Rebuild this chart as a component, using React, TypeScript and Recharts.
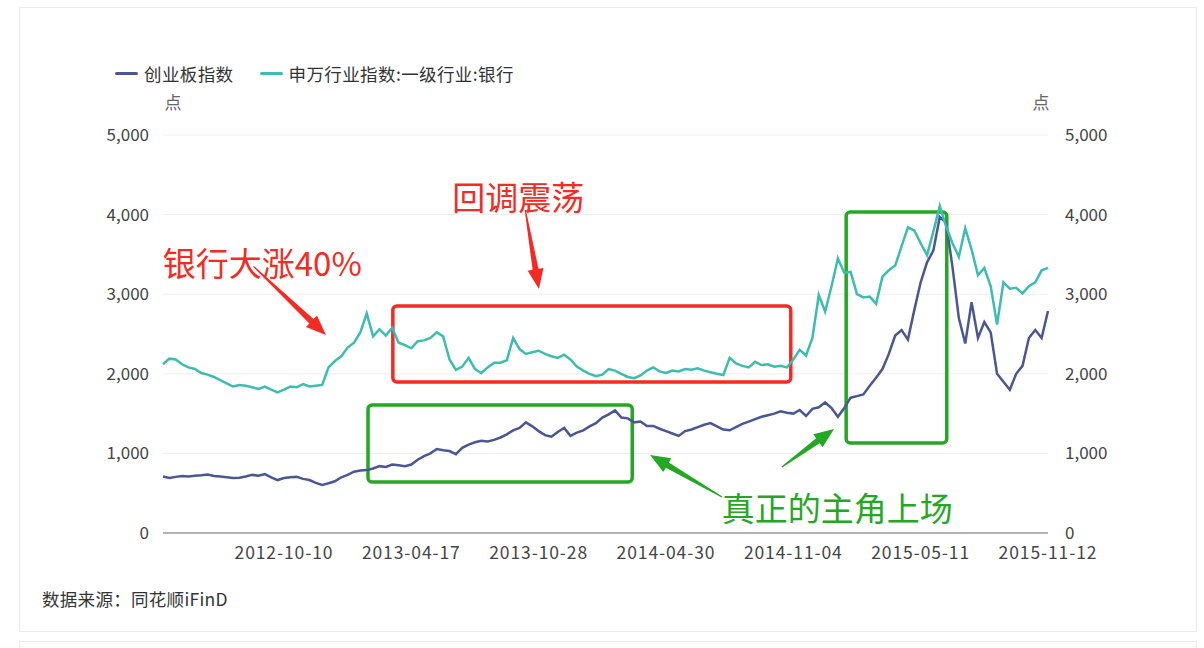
import { LineChart, Line, XAxis, YAxis, CartesianGrid, ReferenceArea, ReferenceLine, ReferenceDot } from 'recharts';

// categories: trading days sampled roughly every 9-10 calendar days
const dates = [
    '2012-04-13', '2012-04-23', '2012-05-02', '2012-05-11', '2012-05-21', '2012-05-30', '2012-06-08', '2012-06-18', '2012-06-27', '2012-07-06',
    '2012-07-16', '2012-07-25', '2012-08-03', '2012-08-13', '2012-08-22', '2012-08-31', '2012-09-10', '2012-09-19', '2012-09-28', '2012-10-10',
    '2012-10-19', '2012-10-29', '2012-11-07', '2012-11-16', '2012-11-26', '2012-12-05', '2012-12-14', '2012-12-24', '2013-01-04', '2013-01-14',
    '2013-01-23', '2013-02-01', '2013-02-18', '2013-02-27', '2013-03-08', '2013-03-18', '2013-03-27', '2013-04-03', '2013-04-10', '2013-04-17',
    '2013-04-26', '2013-05-08', '2013-05-17', '2013-05-27', '2013-06-05', '2013-06-17', '2013-06-26', '2013-07-05', '2013-07-15', '2013-07-24',
    '2013-08-02', '2013-08-12', '2013-08-21', '2013-08-30', '2013-09-09', '2013-09-18', '2013-09-30', '2013-10-14', '2013-10-21', '2013-10-28',
    '2013-11-06', '2013-11-15', '2013-11-25', '2013-12-04', '2013-12-13', '2013-12-23', '2014-01-02', '2014-01-13', '2014-01-22', '2014-02-07',
    '2014-02-17', '2014-02-26', '2014-03-07', '2014-03-17', '2014-03-26', '2014-04-04', '2014-04-11', '2014-04-18', '2014-04-24', '2014-04-30',
    '2014-05-12', '2014-05-21', '2014-05-30', '2014-06-10', '2014-06-19', '2014-06-30', '2014-07-09', '2014-07-18', '2014-07-29', '2014-08-07',
    '2014-08-18', '2014-08-27', '2014-09-05', '2014-09-16', '2014-09-25', '2014-10-10', '2014-10-17', '2014-10-24', '2014-10-30', '2014-11-04',
    '2014-11-13', '2014-11-24', '2014-12-03', '2014-12-12', '2014-12-23', '2015-01-05', '2015-01-14', '2015-01-23', '2015-02-03', '2015-02-12',
    '2015-02-27', '2015-03-10', '2015-03-19', '2015-03-30', '2015-04-08', '2015-04-17', '2015-04-24', '2015-04-30', '2015-05-06', '2015-05-11',
    '2015-05-20', '2015-05-29', '2015-06-09', '2015-06-18', '2015-06-30', '2015-07-09', '2015-07-20', '2015-07-29', '2015-08-07', '2015-08-18',
    '2015-08-27', '2015-09-09', '2015-09-18', '2015-09-29', '2015-10-14', '2015-10-23', '2015-10-29', '2015-11-03', '2015-11-09', '2015-11-12',
];

// 创业板指数
const chinextValues = [
    710, 690, 705, 716, 710, 720, 725, 735, 715, 710,
    700, 690, 695, 710, 730, 720, 740, 700, 665, 690,
    700, 705, 680, 665, 630, 605, 625, 650, 700, 730,
    770, 785, 790, 810, 840, 830, 860, 850, 840, 860,
    920, 965, 1000, 1055, 1040, 1030, 990, 1070, 1110, 1140,
    1160, 1150, 1170, 1200, 1240, 1290, 1320, 1390, 1340, 1280,
    1230, 1210, 1270, 1320, 1220, 1260, 1290, 1340, 1380, 1450,
    1490, 1540, 1450, 1440, 1390, 1400, 1345, 1345, 1310, 1280,
    1250, 1220, 1280, 1300, 1330, 1360, 1380, 1340, 1300, 1290,
    1330, 1370, 1400, 1430, 1460, 1480, 1500, 1530, 1510, 1500,
    1545, 1470, 1560, 1580, 1640, 1570, 1460, 1570, 1700, 1720,
    1740, 1850, 1950, 2060, 2250, 2480, 2550, 2430, 2800, 3150,
    3400, 3550, 3970, 3900, 3340, 2700, 2380, 2900, 2450, 2650,
    2520, 2000, 1900, 1800, 2000, 2100, 2450, 2550, 2450, 2790,
];

// 申万行业指数:一级行业:银行
const bankValues = [
    2120, 2190, 2180, 2120, 2080, 2060, 2010, 1990, 1960, 1920,
    1880, 1840, 1860, 1850, 1830, 1810, 1840, 1800, 1765, 1800,
    1840, 1830, 1870, 1840, 1850, 1860, 2080, 2160, 2220, 2330,
    2390, 2520, 2760, 2470, 2560, 2480, 2580, 2390, 2360, 2320,
    2410, 2420, 2450, 2520, 2470, 2180, 2050, 2090, 2200, 2060,
    2010, 2080, 2140, 2140, 2170, 2450, 2310, 2250, 2270, 2290,
    2250, 2220, 2200, 2240, 2180, 2090, 2040, 2000, 1970, 1990,
    2060, 2040, 2000, 1960, 1945, 1980, 2040, 2080, 2030, 2010,
    2040, 2030, 2060, 2050, 2070, 2040, 2020, 2000, 1985, 2200,
    2130, 2100, 2080, 2150, 2110, 2120, 2090, 2100, 2080, 2180,
    2300, 2230, 2450, 2990, 2780, 3100, 3450, 3270, 3280, 3000,
    2960, 2970, 2880, 3220, 3300, 3360, 3600, 3840, 3800, 3640,
    3490, 3790, 4110, 3850, 3640, 3470, 3830, 3560, 3240, 3330,
    3100, 2620, 3150, 3070, 3080, 3010, 3100, 3150, 3300, 3330,
];

const seriesNames = ['创业板指数', '申万行业指数:一级行业:银行'];
const seriesColors = ['#4b5694', '#3dbdb0'];
const tickDates = ['2012-10-10', '2013-04-17', '2013-10-28', '2014-04-30', '2014-11-04', '2015-05-11', '2015-11-12'];
const yTicks = [0, 1000, 2000, 3000, 4000, 5000];

const data = dates.map((d, i) => ({ idx: i, date: d, chinext: chinextValues[i], bank: bankValues[i] }));
const xTicks = tickDates.map((d) => dates.indexOf(d));

const RED = '#f52a22';
const GREEN = '#24a824';
const FONT = "'Noto Sans CJK SC', 'Noto Sans', sans-serif";

const arrow = (color: string) => (props: any) => {
    const { x1, y1, x2, y2 } = props;
    const dx = x2 - x1;
    const dy = y2 - y1;
    const len = Math.hypot(dx, dy) || 1;
    const ux = dx / len, uy = dy / len;
    const px = -uy, py = ux;
    const headLen = 20, headHalf = 8, baseHalf = 3, tailHalf = 0.6;
    const bx = x2 - ux * headLen, by = y2 - uy * headLen;
    const pts = [
        [x1 + px * tailHalf, y1 + py * tailHalf],
        [bx + px * baseHalf, by + py * baseHalf],
        [bx + px * headHalf, by + py * headHalf],
        [x2, y2],
        [bx - px * headHalf, by - py * headHalf],
        [bx - px * baseHalf, by - py * baseHalf],
        [x1 - px * tailHalf, y1 - py * tailHalf],
    ];
    return <polygon points={pts.map((p) => p.join(',')).join(' ')} fill={color} />;
};

const box = (color: string) => (props: any) => {
    const { x, y, width, height } = props;
    return <rect x={x} y={y} width={width} height={height} rx={4} ry={4} fill="none" stroke={color} strokeWidth={3.5} />;
};

const label = (text: string, color: string) => (props: any) => (
    <text x={props.cx} y={props.cy} textAnchor="middle" dominantBaseline="central" fill={color} fontSize={33} fontFamily={FONT}>
        {text}
    </text>
);

const unitLabel = (side: 'left' | 'right') => (props: any) => {
    const vb = props.viewBox;
    const x = side === 'left' ? vb.x + vb.width + 10 : vb.x - 7;
    return (
        <text x={x} y={vb.y - 34} textAnchor="middle" dominantBaseline="central" fill="#666" fontSize={17} fontFamily={FONT}>
            点
        </text>
    );
};

export default function App() {
    return (
        <div style={{ position: 'absolute', left: 0, top: 0, width: 1204, height: 648, background: '#fff', fontFamily: FONT, overflow: 'hidden' }}>
            <div style={{ position: 'absolute', left: 19, top: 7, width: 1176, height: 623, border: '1px solid #ebebeb' }} />
            <div style={{ position: 'absolute', left: 19, top: 641, width: 1176, height: 30, border: '1px solid #ebebeb' }} />

            {/* legend */}
            <div style={{ position: 'absolute', left: 115, top: 61, height: 24, display: 'flex', alignItems: 'center', fontSize: 17.5, color: '#333' }}>
                {seriesNames.map((name, i) => (
                    <div key={name} style={{ display: 'flex', alignItems: 'center', marginRight: 26 }}>
                        <span style={{ display: 'inline-block', width: 23, height: 3, background: seriesColors[i], borderRadius: 2, marginRight: 6 }} />
                        <span style={{ letterSpacing: 0.4 }}>{name}</span>
                    </div>
                ))}
            </div>

            <div style={{ position: 'absolute', left: 42, top: 586, fontSize: 17.5, color: '#333', letterSpacing: 0.3 }}>数据来源：同花顺iFinD</div>

            <div style={{ position: 'absolute', left: 0, top: 0 }}>
                <LineChart width={1204} height={648} data={data} margin={{ top: 135, right: 76, left: 103, bottom: 75 }}>
                    <CartesianGrid horizontal vertical={false} stroke="#eeeeee" yAxisId="left" />
                    <XAxis
                        dataKey="idx"
                        type="number"
                        domain={[0, dates.length - 1]}
                        ticks={xTicks}
                        tickFormatter={(v: number) => dates[v]}
                        interval={0}
                        height={40}
                        tickLine={false}
                        tickSize={6}
                        tickMargin={8}
                        axisLine={{ stroke: '#6e7079' }}
                        tick={{ fontSize: 17.5, fill: '#444', letterSpacing: 0.9 }}
                    />
                    <YAxis
                        yAxisId="left"
                        domain={[0, 5000]}
                        ticks={yTicks}
                        width={60}
                        axisLine={false}
                        tickLine={false}
                        tickSize={6}
                        tickMargin={8}
                        tickFormatter={(v: number) => v.toLocaleString('en-US')}
                        tick={{ fontSize: 17, fill: '#444' }}
                        label={unitLabel('left')}
                    />
                    <YAxis
                        yAxisId="right"
                        orientation="right"
                        domain={[0, 5000]}
                        ticks={yTicks}
                        width={80}
                        axisLine={false}
                        tickLine={false}
                        tickSize={6}
                        tickMargin={11}
                        tickFormatter={(v: number) => v.toLocaleString('en-US')}
                        tick={{ fontSize: 17, fill: '#444', textAnchor: 'start' }}
                        label={unitLabel('right')}
                    />
                    <Line yAxisId="left" type="linear" dataKey="chinext" name={seriesNames[0]} stroke={seriesColors[0]} strokeWidth={2.5} dot={false} isAnimationActive={false} />
                    <Line yAxisId="right" type="linear" dataKey="bank" name={seriesNames[1]} stroke={seriesColors[1]} strokeWidth={2.5} dot={false} isAnimationActive={false} />

                    {/* annotations */}
                    <ReferenceArea yAxisId="left" x1={36.1} x2={98.6} y1={1897} y2={2852} ifOverflow="visible" shape={box(RED)} />
                    <ReferenceArea yAxisId="left" x1={32.2} x2={73.7} y1={641} y2={1608} ifOverflow="visible" shape={box(GREEN)} />
                    <ReferenceArea yAxisId="left" x1={107.3} x2={123.1} y1={1131} y2={4033} ifOverflow="visible" shape={box(GREEN)} />

                    <ReferenceLine yAxisId="left" segment={[{ x: 14.2, y: 3350 }, { x: 25.6, y: 2487 }]} ifOverflow="visible" shape={arrow(RED)} />
                    <ReferenceLine yAxisId="left" segment={[{ x: 56.9, y: 4058 }, { x: 59.05, y: 3065 }]} ifOverflow="visible" shape={arrow(RED)} />
                    <ReferenceLine yAxisId="left" segment={[{ x: 87.8, y: 452 }, { x: 76.5, y: 980 }]} ifOverflow="visible" shape={arrow(GREEN)} />
                    <ReferenceLine yAxisId="left" segment={[{ x: 97.2, y: 829 }, { x: 105.4, y: 1307 }]} ifOverflow="visible" shape={arrow(GREEN)} />

                    <ReferenceDot yAxisId="left" x={15.6} y={3405} r={0} ifOverflow="visible" shape={label('银行大涨40%', RED)} />
                    <ReferenceDot yAxisId="left" x={55.8} y={4234} r={0} ifOverflow="visible" shape={label('回调震荡', RED)} />
                    <ReferenceDot yAxisId="left" x={105.9} y={327} r={0} ifOverflow="visible" shape={label('真正的主角上场', GREEN)} />
                </LineChart>
            </div>
        </div>
    );
}
